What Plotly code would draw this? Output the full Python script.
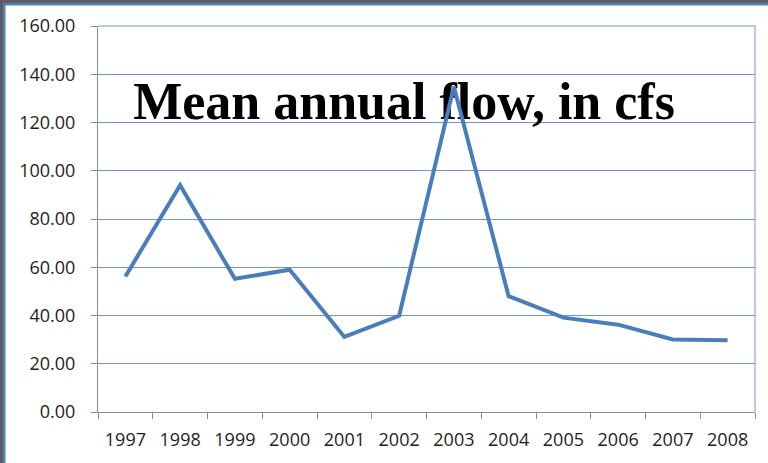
import plotly.graph_objects as go

# Mean annual flow by water year (cfs)
years = [1997, 1998, 1999, 2000, 2001, 2002, 2003, 2004, 2005, 2006, 2007, 2008]
flow_cfs = [56.2, 94.0, 55.2, 59.0, 31.1, 39.9, 134.8, 48.0, 39.1, 36.2, 30.1, 29.7]
y_ticks = [0, 20, 40, 60, 80, 100, 120, 140, 160]
chart_title = "Mean annual flow, in cfs"

W, H = 768, 463
ML, MR, MT, MB = 98, 13, 26, 51
PW, PH = W - ML - MR, H - MT - MB

LINE_BLUE = "#4A7EBB"
GRID_BLUE = "#7097CF"
AXIS_GRAY = "#8C8C8C"
FRAME_GRAY = "#5E5E60"
FRAME_BLUE = "#4F81BD"


def px_x(px):
    return (px - ML) / PW


def px_y(py):
    return (H - MB - py) / PH


fig = go.Figure()

# Large caption sits underneath the data line
fig.add_trace(go.Scatter(
    x=[2002.09], y=[126.9], mode="text", text=[chart_title],
    textposition="middle center",
    textfont=dict(family="Liberation Serif", size=52, color="#000000", weight="bold"),
    hoverinfo="skip", showlegend=False,
))

fig.add_trace(go.Scatter(
    x=years, y=flow_cfs, mode="lines",
    line=dict(color=LINE_BLUE, width=4, shape="linear"),
    showlegend=False,
))

boundaries = [years[0] - 0.5 + i for i in range(len(years) + 1)]

fig.update_xaxes(
    range=[years[0] - 0.5, years[-1] + 0.5],
    tickvals=years, ticktext=[str(y) for y in years],
    ticks="", showgrid=False, zeroline=False,
    showline=True, linecolor=AXIS_GRAY, linewidth=1,
    minor=dict(tickvals=boundaries, ticks="outside", ticklen=6,
               tickcolor=AXIS_GRAY, tickwidth=1, showgrid=False),
    tickfont=dict(family="Open Sans", size=18, color="#1E1E1E"),
    ticklabelstandoff=11,
)

fig.update_yaxes(
    range=[0, 160], tickvals=y_ticks, tickformat=".2f",
    ticks="outside", ticklen=6, tickcolor=AXIS_GRAY, tickwidth=1,
    showgrid=True, gridcolor=GRID_BLUE, gridwidth=1, zeroline=False,
    showline=True, linecolor=AXIS_GRAY, linewidth=1,
    tickfont=dict(family="Open Sans", size=18, color="#1E1E1E"),
    ticklabelstandoff=12,
)

shapes = [
    # right and top edges of the plot area
    dict(type="line", xref="paper", yref="paper", x0=1, x1=1, y0=0, y1=1,
         line=dict(color=GRID_BLUE, width=1)),
    dict(type="line", xref="paper", yref="paper", x0=0, x1=1, y0=1, y1=1,
         line=dict(color=GRID_BLUE, width=1)),
    # slide frame: dark strip plus blue rule along the top and left
    dict(type="rect", xref="paper", yref="paper", x0=px_x(0), x1=px_x(3),
         y0=px_y(H), y1=px_y(0), fillcolor=FRAME_GRAY, line=dict(width=0), layer="above"),
    dict(type="rect", xref="paper", yref="paper", x0=px_x(0), x1=px_x(W),
         y0=px_y(3), y1=px_y(0), fillcolor=FRAME_GRAY, line=dict(width=0), layer="above"),
    dict(type="rect", xref="paper", yref="paper", x0=px_x(3), x1=px_x(5.5),
         y0=px_y(H), y1=px_y(3), fillcolor=FRAME_BLUE, line=dict(width=0), layer="above"),
    dict(type="rect", xref="paper", yref="paper", x0=px_x(3), x1=px_x(W),
         y0=px_y(5.5), y1=px_y(3), fillcolor=FRAME_BLUE, line=dict(width=0), layer="above"),
]

fig.update_layout(
    width=W, height=H,
    margin=dict(l=ML, r=MR, t=MT, b=MB, pad=0),
    paper_bgcolor="white", plot_bgcolor="white",
    shapes=shapes, showlegend=False,
)

fig.write_html("out.html", include_plotlyjs=True, config={"displayModeBar": False})
